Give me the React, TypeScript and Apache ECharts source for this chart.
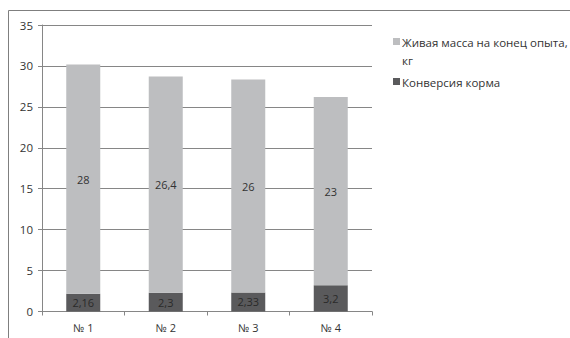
import React, { useEffect, useRef } from "react";
import * as echarts from "echarts";

const categories = ["№ 1", "№ 2", "№ 3", "№ 4"];
const conversion = [2.16, 2.3, 2.33, 3.2];
const liveWeight = [28, 26.4, 26, 23];
const seriesNames = ["Живая масса на конец опыта, кг", "Конверсия корма"];
const legendLines = [["Живая масса на конец опыта,", "кг"], ["Конверсия корма"]];
const yTicks = { min: 0, max: 35, interval: 5 };

const FONT = "'Open Sans', 'Noto Sans', sans-serif";
const LIGHT = "#bdbec0";
const DARK = "#5a5a5c";
const FRAME = "#7f7f7f";
const comma = (v: number) => String(v).replace(".", ",");

export default function App() {
  const ref = useRef<HTMLDivElement>(null);

  useEffect(() => {
    if (!ref.current) return;
    const chart = echarts.init(ref.current, null, { renderer: "svg" });

    // hand-placed legend so the swatch sits on the first text line
    const legendColors = [LIGHT, DARK];
    const legendTops = [33, 73];
    const legendItems: any[] = [];
    legendLines.forEach((lines, i) => {
      legendItems.push({
        type: "rect",
        shape: { x: 393, y: legendTops[i] + 5, width: 7, height: 7 },
        style: { fill: legendColors[i] },
        silent: true,
      });
      legendItems.push({
        type: "text",
        x: 402,
        y: legendTops[i],
        style: {
          text: lines.join("\n"),
          fontFamily: FONT,
          fontSize: 11.5,
          lineHeight: 18,
          fill: "#333",
          verticalAlign: "top",
        },
        silent: true,
      });
    });

    chart.setOption({
      animation: false,
      backgroundColor: "#ffffff",
      textStyle: { fontFamily: FONT },
      grid: { left: 42, top: 25, right: 198, bottom: 26.5 },
      graphic: [
        // chart frame; its right and bottom edges run past the page
        {
          type: "rect",
          z: 100,
          shape: { x: 8.5, y: 10.5, width: 570, height: 340 },
          style: { fill: "none", stroke: FRAME, lineWidth: 1 },
          silent: true,
        },
        ...legendItems,
      ],
      xAxis: {
        type: "category",
        data: categories,
        axisLine: { lineStyle: { color: "#868686" } },
        axisTick: { show: true, length: 4, lineStyle: { color: "#868686" } },
        axisLabel: { color: "#333", fontSize: 11, margin: 10, fontFamily: FONT },
      },
      yAxis: {
        type: "value",
        min: yTicks.min,
        max: yTicks.max,
        interval: yTicks.interval,
        axisLine: { show: true, lineStyle: { color: "#868686" } },
        axisTick: { show: true, length: 4, lineStyle: { color: "#868686" } },
        splitLine: { lineStyle: { color: "#868686" } },
        axisLabel: { color: "#333", fontSize: 11.5, margin: 9, fontFamily: FONT },
      },
      series: [
        {
          name: seriesNames[1],
          type: "bar",
          stack: "total",
          data: conversion,
          barWidth: 34,
          itemStyle: { color: DARK },
          label: {
            show: true,
            position: "inside",
            color: "#2a2a2a",
            fontSize: 11,
            fontFamily: FONT,
            formatter: (p: any) => comma(p.value),
          },
        },
        {
          name: seriesNames[0],
          type: "bar",
          stack: "total",
          data: liveWeight,
          barWidth: 34,
          itemStyle: { color: LIGHT },
          label: {
            show: true,
            position: "inside",
            color: "#333",
            fontSize: 11,
            fontFamily: FONT,
            formatter: (p: any) => comma(p.value),
          },
        },
      ],
    });
    return () => chart.dispose();
  }, []);

  return (
    <div style={{ position: "fixed", left: 0, top: 0, width: 570, height: 338, background: "#fff" }}>
      <div ref={ref} style={{ position: "absolute", left: 0, top: 0, width: 570, height: 338 }} />
    </div>
  );
}
